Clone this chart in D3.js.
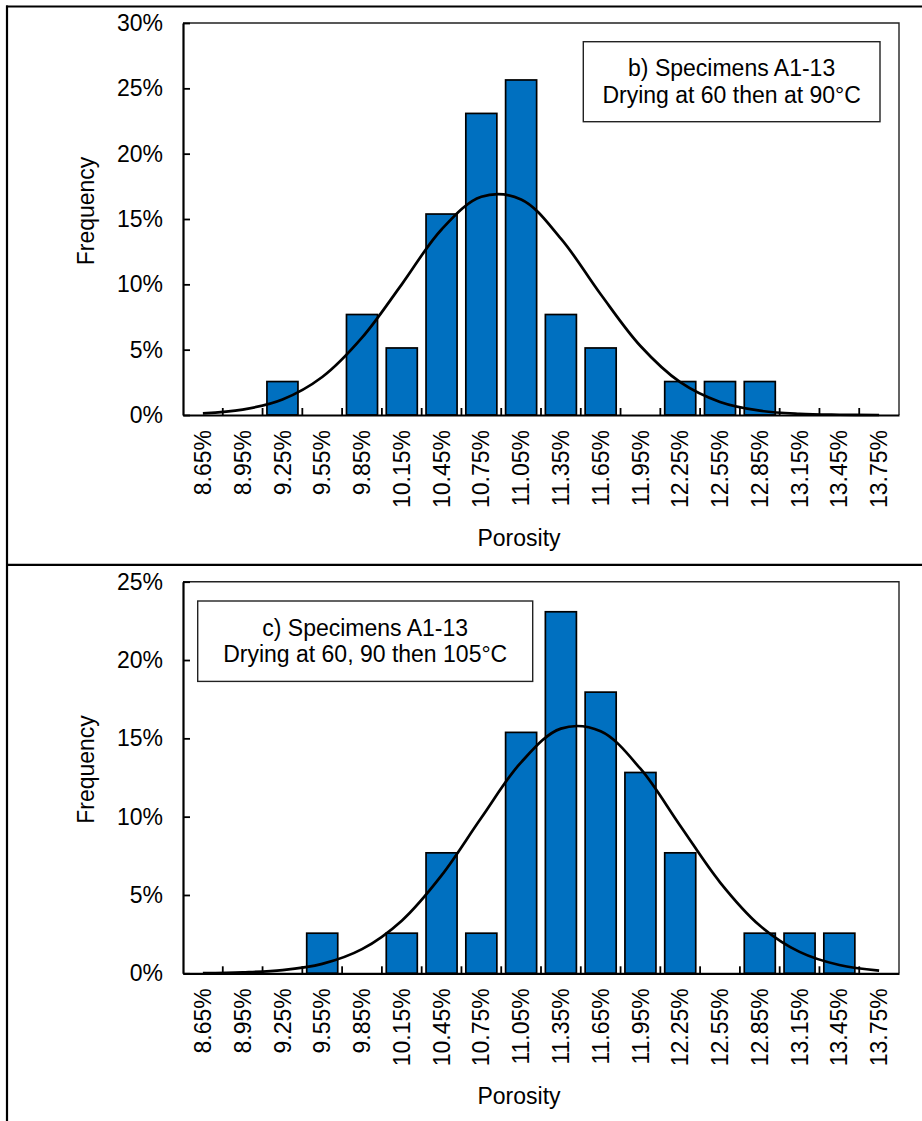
<!DOCTYPE html>
<meta charset="utf-8">
<script src="https://d3js.org/d3.v7.min.js"></script>
<style>
  body { margin: 0; background: #fff; }
  text { font-family: "Liberation Sans", Arial, sans-serif; fill: #000; }
</style>
<div id="my_dataviz"></div>

<script>

// Data
var porosity = ["8.65%", "8.95%", "9.25%", "9.55%", "9.85%", "10.15%", "10.45%", "10.75%", "11.05%",
                "11.35%", "11.65%", "11.95%", "12.25%", "12.55%", "12.85%", "13.15%", "13.45%", "13.75%"];

// b) drying at 60 then 90 C : frequency (%) per bin and fitted normal curve (%)
var freqB  = [0, 0, 2.56, 0, 7.69, 5.13, 15.38, 23.08, 25.64, 7.69, 5.13, 0, 2.56, 2.56, 2.56, 0, 0, 0];
var curveB = [0.12, 0.41, 1.19, 2.91, 5.92, 10.0, 14.2, 16.7, 16.5, 13.5, 9.24, 5.28, 2.51, 1.0, 0.33, 0.09, 0.02, 0.0];
var yTicksB = [0, 5, 10, 15, 20, 25, 30];

// c) drying at 60, 90 then 105 C
var freqC  = [0, 0, 0, 2.56, 0, 2.56, 7.69, 2.56, 15.38, 23.08, 17.95, 12.82, 7.69, 0, 2.56, 2.56, 2.56, 0];
var curveC = [0.01, 0.06, 0.2, 0.6, 1.54, 3.36, 6.25, 9.93, 13.47, 15.62, 15.45, 13.06, 9.42, 5.81, 3.05, 1.37, 0.53, 0.17];
var yTicksC = [0, 5, 10, 15, 20, 25];

var W = 922, H = 1121;

var svg = d3.select("#my_dataviz")
  .append("svg")
    .attr("width", W)
    .attr("height", H);

// outer frame lines
svg.append("line").attr("x1", 6).attr("x2", W).attr("y1", 6.5).attr("y2", 6.5)
  .attr("stroke", "#000").attr("stroke-width", 2.2);
svg.append("line").attr("x1", 7).attr("x2", 7).attr("y1", 5.5).attr("y2", H)
  .attr("stroke", "#000").attr("stroke-width", 2.2);
svg.append("line").attr("x1", 6).attr("x2", W).attr("y1", 564.8).attr("y2", 564.8)
  .attr("stroke", "#000").attr("stroke-width", 2.2);

function drawPanel(o) {
  var left = 183, right = 899;
  var width = right - left, height = o.bottom - o.top;

  var g = svg.append("g")
      .attr("transform", "translate(" + left + "," + o.top + ")");

  var x = d3.scaleBand()
      .domain(porosity)
      .range([0, width])
      .paddingInner(0.22)
      .paddingOuter(0.11);

  var y = d3.scaleLinear()
      .domain([0, d3.max(o.ticks)])
      .range([height, 0]);

  // plot area frame (top and right)
  g.append("path")
      .attr("d", "M0,0H" + width + "V" + height)
      .attr("fill", "none")
      .attr("stroke", "#222")
      .attr("stroke-width", 1.4);

  // Bars (empty bins are not drawn)
  var bars = porosity
      .map(function(p, i) { return { bin: p, value: o.freq[i] }; })
      .filter(function(d) { return d.value > 0; });

  g.append("g")
    .selectAll("rect")
    .data(bars)
    .enter()
    .append("rect")
      .attr("x", function(d) { return x(d.bin); })
      .attr("y", function(d) { return y(d.value); })
      .attr("width", x.bandwidth())
      .attr("height", function(d) { return height - y(d.value); })
      .attr("fill", "#0070C0")
      .attr("stroke", "#000")
      .attr("stroke-width", 1.7);

  // Normal curve
  var line = d3.line()
      .x(function(d, i) { return x(porosity[i]) + x.bandwidth() / 2; })
      .y(function(d) { return y(d); })
      .curve(d3.curveCatmullRom.alpha(0.5));

  g.append("path")
      .datum(o.curve)
      .attr("d", line)
      .attr("fill", "none")
      .attr("stroke", "#000")
      .attr("stroke-width", 2.7);

  // Y axis
  var yAxis = g.append("g")
      .call(d3.axisLeft(y).tickValues(o.ticks).tickSizeInner(-7).tickSizeOuter(0).tickPadding(20)
        .tickFormat(function(d) { return d + "%"; }));
  yAxis.select(".domain").attr("stroke-width", 2.2);
  yAxis.selectAll(".tick line").attr("stroke-width", 1.8);
  yAxis.selectAll("text").style("font-size", "23px");

  // X axis: labels at bin centres, ticks at bin boundaries
  var xAxis = g.append("g")
      .attr("transform", "translate(0," + height + ")")
      .call(d3.axisBottom(x).tickSize(0).tickPadding(0));
  xAxis.select(".domain").attr("stroke-width", 2.2);
  xAxis.selectAll("text")
      .style("font-size", "23px")
      .attr("text-anchor", "end")
      .attr("transform", "rotate(-90)")
      .attr("x", -15)
      .attr("y", 0)
      .attr("dy", "0.35em");

  xAxis.selectAll(".bound")
    .data(porosity.slice(1))
    .enter()
    .append("line")
      .attr("x1", function(d) { return x(d) - x.step() * x.paddingInner() / 2; })
      .attr("x2", function(d) { return x(d) - x.step() * x.paddingInner() / 2; })
      .attr("y1", 0)
      .attr("y2", -7)
      .attr("stroke", "#000")
      .attr("stroke-width", 1.8);

  // Axis titles
  g.append("text")
      .attr("text-anchor", "middle")
      .attr("transform", "rotate(-90)")
      .attr("x", -height / 2 + 8)
      .attr("y", 86 - left)
      .attr("dy", "0.35em")
      .style("font-size", "23px")
      .text("Frequency");

  g.append("text")
      .attr("text-anchor", "middle")
      .attr("x", 519 - left)
      .attr("y", height + 131)
      .style("font-size", "23px")
      .text("Porosity");

  // Label box
  var box = g.append("g")
      .attr("transform", "translate(" + o.box[0] + "," + o.box[1] + ")");
  box.append("rect")
      .attr("width", o.box[2])
      .attr("height", o.box[3])
      .attr("fill", "#fff")
      .attr("stroke", "#222")
      .attr("stroke-width", 1.4);
  box.selectAll("text")
    .data(o.title)
    .enter()
    .append("text")
      .attr("text-anchor", "middle")
      .attr("x", o.box[2] / 2)
      .attr("y", function(d, i) { return 34.5 + i * 26.7; })
      .style("font-size", "23px")
      .text(function(d) { return d; });
}

drawPanel({
  top: 23, bottom: 415,
  freq: freqB, curve: curveB, ticks: yTicksB,
  box: [400.3, 18.7, 296.7, 80],
  title: ["b) Specimens A1-13", "Drying at 60 then at 90\u00B0C"]
});

drawPanel({
  top: 581.7, bottom: 973.3,
  freq: freqC, curve: curveC, ticks: yTicksC,
  box: [14.7, 19.3, 335, 80.4],
  title: ["c) Specimens A1-13", "Drying at 60, 90 then 105\u00B0C"]
});

</script>
</body>
</html>
